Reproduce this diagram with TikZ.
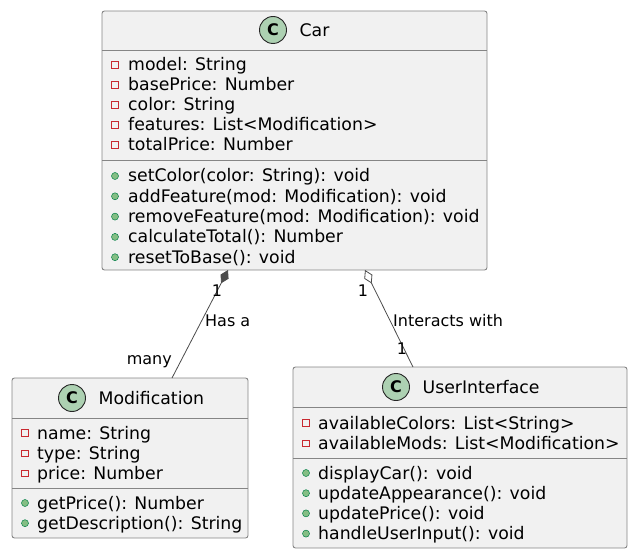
\documentclass[tikz,border=0pt]{standalone}
\usepackage{fontspec}
\setmainfont{DejaVu Sans}
\usetikzlibrary{arrows.meta,positioning}
\definecolor{umlfill}{HTML}{F1F1F1}
\definecolor{umlline}{HTML}{858585}
\definecolor{circfill}{HTML}{ADD1B2}
\definecolor{privred}{HTML}{C82930}
\definecolor{pubgreen}{HTML}{84BE84}
\definecolor{pubdark}{HTML}{038048}

\begin{document}
\begin{tikzpicture}[x=1pt,y=-1pt,
every node/.style={font=\fontsize{17.3}{20}\selectfont},
box/.style={draw=umlline,fill=umlfill,rounded corners=2.5pt,line width=.9pt,
  anchor=north west,inner sep=0,outer sep=0},
sep/.style={draw=umlline,line width=.9pt},
cmark/.style={circle,draw=black!85,fill=circfill,line width=.9pt,minimum size=27pt,
  inner sep=0,font=\fontsize{16}{16}\selectfont\bfseries},
title/.style={anchor=west,inner sep=0},
row/.style={anchor=base west,inner sep=0},
priv/.style={draw=privred,line width=.8pt,minimum size=6.5pt,inner sep=0},
pub/.style={circle,draw=pubdark,fill=pubgreen,line width=.5pt,minimum size=7pt,inner sep=0},
edge/.style={draw=black!70,line width=.8pt},
lbl/.style={font=\fontsize{16}{16}\selectfont,inner sep=0}]
\useasboundingbox (0,0) rectangle (637,556);

\node[box,minimum width=385pt,minimum height=259pt] (Car) at (102,11) {};
\draw[sep] (Car.west |- 0,50) -- (Car.east |- 0,50);
\draw[sep] (Car.west |- 0,160) -- (Car.east |- 0,160);
\node[cmark] (CarC) at (273,30) {C};
\node[title,right=12.5pt of CarC] (CarT) {Car};
\foreach \t [count=\i from 0] in {{model: String},{basePrice: Number},{color: String},
  {features: List<Modification>},{totalPrice: Number}}{
  \node[priv] (car-p\i) at (115,65+20*\i) {};
  \node[row] (car-a\i) at (128,71+20*\i) {\t};
}
\foreach \t [count=\i from 0] in {{setColor(color: String): void},
  {addFeature(mod: Modification): void},{removeFeature(mod: Modification): void},
  {calculateTotal(): Number},{resetToBase(): void}}{
  \node[pub] (car-d\i) at (115,176+20.3*\i) {};
  \node[row] (car-m\i) at (128,182+20.3*\i) {\t};
}

\node[box,minimum width=236pt,minimum height=160pt] (Mod) at (12,378) {};
\draw[sep] (Mod.west |- 0,418) -- (Mod.east |- 0,418);
\draw[sep] (Mod.west |- 0,488) -- (Mod.east |- 0,488);
\node[cmark] (ModC) at (72,398) {C};
\node[title,right=12.5pt of ModC] (ModT) {Modification};
\foreach \t [count=\i from 0] in {{name: String},{type: String},{price: Number}}{
  \node[priv] (mod-p\i) at (25,433+20.2*\i) {};
  \node[row] (mod-a\i) at (37,439+20.2*\i) {\t};
}
\foreach \t [count=\i from 0] in {{getPrice(): Number},{getDescription(): String}}{
  \node[pub] (mod-d\i) at (25,503+20.2*\i) {};
  \node[row] (mod-m\i) at (37,509+20.2*\i) {\t};
}

\node[box,minimum width=334pt,minimum height=181pt] (UI) at (293,367) {};
\draw[sep] (UI.west |- 0,407) -- (UI.east |- 0,407);
\draw[sep] (UI.west |- 0,458) -- (UI.east |- 0,458);
\node[cmark] (UIC) at (396,387) {C};
\node[title,right=12.5pt of UIC] (UIT) {UserInterface};
\foreach \t [count=\i from 0] in {{availableColors: List<String>},
  {availableMods: List<Modification>}}{
  \node[priv] (ui-p\i) at (306,423+20.2*\i) {};
  \node[row] (ui-a\i) at (318,429+20.2*\i) {\t};
}
\foreach \t [count=\i from 0] in {{displayCar(): void},{updateAppearance(): void},
  {updatePrice(): void},{handleUserInput(): void}}{
  \node[pub] (ui-d\i) at (306,473+20.2*\i) {};
  \node[row] (ui-m\i) at (318,479+20.2*\i) {\t};
}

\draw[edge,{Diamond[length=15pt,width=9pt]}-] ([xshift=-66.5pt]Car.south) -- ([xshift=42pt]Mod.north);
\draw[edge,{Diamond[length=15pt,width=9pt,fill=white]}-] ([xshift=70.5pt]Car.south) -- ([xshift=-47pt]UI.north);
\node[lbl,anchor=base] (one1) at (217,296) {1};
\node[lbl,anchor=base west] (hasa) at (205,326) {Has a};
\node[lbl,anchor=base east] (many) at (172,364) {many};
\node[lbl,anchor=base] (one2) at (363,296) {1};
\node[lbl,anchor=base west] (inter) at (393,326) {Interacts with};
\node[lbl,anchor=base] (one3) at (402,354) {1};
\end{tikzpicture}
\end{document}
